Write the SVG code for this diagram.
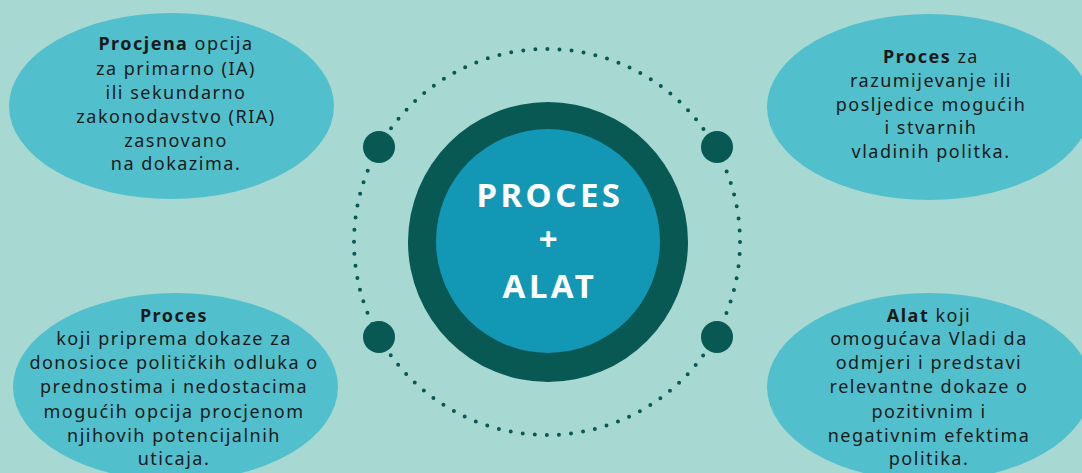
<svg xmlns="http://www.w3.org/2000/svg" width="1082" height="473" viewBox="0 0 1082 473">
<style>
.bg{fill:#a8d8d2}
.ell{fill:#52c0cc}
.dark{fill:#085853}
.t{font-family:"Noto Sans","DejaVu Sans",sans-serif;font-size:18px;fill:#1a1a1a;text-anchor:middle;letter-spacing:1.5px}
.b{font-weight:bold}
.c{font-family:"Noto Sans","DejaVu Sans",sans-serif;font-size:33px;font-weight:bold;fill:#ffffff;text-anchor:middle;letter-spacing:3.5px}
</style>
<rect class="bg" x="0" y="0" width="1082" height="473"/>
<g id="ring">
<circle cx="547" cy="242" r="193" fill="none" stroke="#085853" stroke-width="4" stroke-linecap="round" stroke-dasharray="0 12.127"/>
</g>
<g id="connectors">
<circle class="dark" cx="379" cy="147" r="16"/>
<circle class="dark" cx="717" cy="147" r="16"/>
<circle class="dark" cx="379" cy="337" r="16"/>
<circle class="dark" cx="717" cy="337" r="16"/>
</g>
<g id="center">
<circle class="dark" cx="548" cy="242" r="140"/>
<circle cx="548" cy="241" r="112" fill="#1297b5"/>
<text class="c" x="550" y="207">PROCES</text>
<text class="c" x="550" y="251">+</text>
<text class="c" x="550" y="298">ALAT</text>
</g>
<g id="top-left">
<ellipse class="ell" cx="171.5" cy="106" rx="162.5" ry="93"/>
<text class="t" x="176" y="50"><tspan class="b">Procjena</tspan> opcija</text>
<text class="t" x="176" y="75">za primarno (IA)</text>
<text class="t" x="176" y="99">ili sekundarno</text>
<text class="t" x="176" y="123">zakonodavstvo (RIA)</text>
<text class="t" x="176" y="147">zasnovano</text>
<text class="t" x="176" y="170">na dokazima.</text>
</g>
<g id="top-right">
<ellipse class="ell" cx="929" cy="107" rx="162" ry="93"/>
<text class="t" x="931" y="63"><tspan class="b">Proces</tspan> za</text>
<text class="t" x="931" y="87">razumijevanje ili</text>
<text class="t" x="931" y="111">posljedice mogućih</text>
<text class="t" x="931" y="134">i stvarnih</text>
<text class="t" x="931" y="158">vladinih politka.</text>
</g>
<g id="bottom-left">
<ellipse class="ell" cx="175.5" cy="387" rx="162.5" ry="94"/>
<text class="t b" x="174" y="322">Proces</text>
<text class="t" x="174" y="345">koji priprema dokaze za</text>
<text class="t" x="174" y="369">donosioce političkih odluka o</text>
<text class="t" x="174" y="393">prednostima i nedostacima</text>
<text class="t" x="174" y="418">mogućih opcija procjenom</text>
<text class="t" x="174" y="442">njihovih potencijalnih</text>
<text class="t" x="174" y="465">uticaja.</text>
</g>
<g id="bottom-right">
<ellipse class="ell" cx="929" cy="387" rx="162" ry="94"/>
<text class="t" x="929" y="322"><tspan class="b">Alat</tspan> koji</text>
<text class="t" x="929" y="345">omogućava Vladi da</text>
<text class="t" x="929" y="369">odmjeri i predstavi</text>
<text class="t" x="929" y="393">relevantne dokaze o</text>
<text class="t" x="929" y="418">pozitivnim i</text>
<text class="t" x="929" y="442">negativnim efektima</text>
<text class="t" x="929" y="465">politika.</text>
</g>
</svg>
